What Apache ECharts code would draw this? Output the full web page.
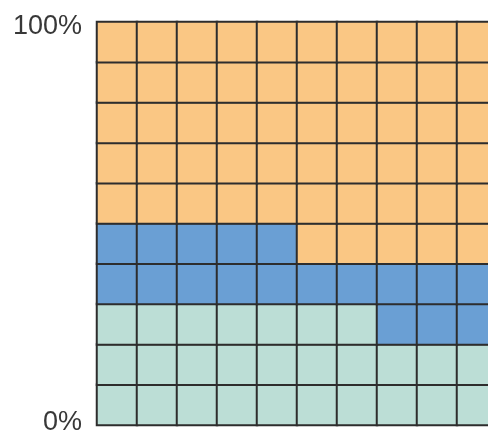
<!DOCTYPE html>
<html>
<head>
<meta charset="utf-8">
<script src="https://cdn.jsdelivr.net/npm/echarts@6/dist/echarts.min.js"></script>
<style>
  html, body { margin: 0; padding: 0; background: #fff; }
  #chart { width: 488px; height: 430px; }
</style>
</head>
<body>
<div id="chart"></div>
<script>
// Waffle chart: 100 cells, filled bottom-up, left to right
const groups = ['Group A', 'Group B', 'Group C'];
const counts = [27, 18, 55];
const colCats = ['1', '2', '3', '4', '5', '6', '7', '8', '9', '10'];
const rowCats = ['1', '2', '3', '4', '5', '6', '7', '8', '9', '10'];
const axisTicks = [0, 100];

const palette = ['#bcded6', '#6a9fd4', '#fac784'];

// Build cell list [col, row, groupIndex]
const cells = [];
let k = 0;
counts.forEach(function (n, g) {
  for (let i = 0; i < n; i++, k++) {
    cells.push([k % colCats.length, Math.floor(k / colCats.length), g]);
  }
});

const chart = echarts.init(document.getElementById('chart'), null, { renderer: 'canvas' });
chart.setOption({
  animation: false,
  grid: [
    { left: 97, top: 22, width: 400, height: 403, outerBoundsMode: 'none', containLabel: false },
    // percentage scale beside the cells
    { left: 97, top: 27, width: 400, height: 396, outerBoundsMode: 'none', containLabel: false }
  ],
  xAxis: [
    { type: 'category', data: colCats, show: false, gridIndex: 0 },
    { type: 'value', show: false, gridIndex: 1 }
  ],
  yAxis: [
    { type: 'category', data: rowCats, show: false, gridIndex: 0 },
    {
      type: 'value', gridIndex: 1, position: 'left', min: axisTicks[0], max: axisTicks[1], interval: 100,
      axisLine: { show: false }, axisTick: { show: false }, splitLine: { show: false },
      axisLabel: {
        formatter: '{value}%', fontSize: 27, color: '#383838',
        fontFamily: 'Liberation Sans, Arial, sans-serif', margin: 15
      }
    }
  ],
  visualMap: {
    show: false, type: 'piecewise', dimension: 2, seriesIndex: 0,
    pieces: groups.map(function (g, i) { return { value: i, color: palette[i] }; })
  },
  series: [{
    type: 'heatmap',
    xAxisIndex: 0, yAxisIndex: 0,
    data: cells,
    itemStyle: { borderColor: '#2d2d2d', borderWidth: 2 },
    emphasis: { disabled: true }
  }]
});
</script>
</body>
</html>
